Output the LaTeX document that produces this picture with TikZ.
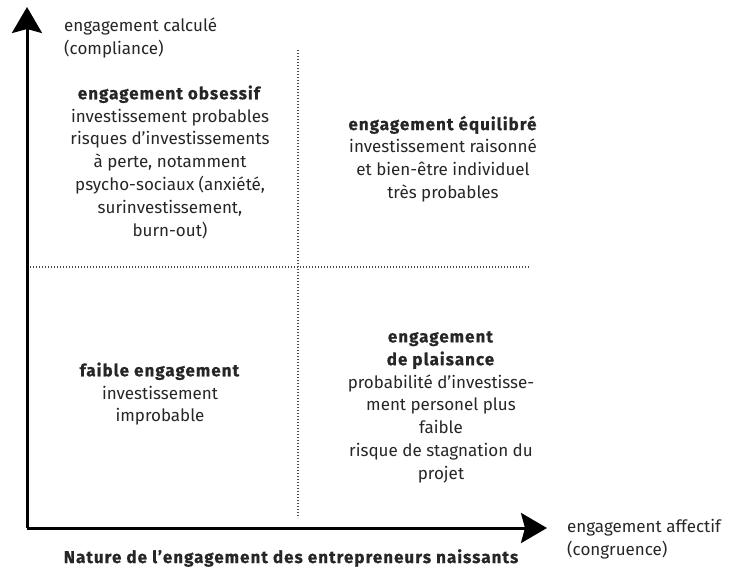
\documentclass[tikz,border=0pt]{standalone}
\usepackage{fontspec}
\setmainfont{Fira Sans}[BoldFeatures={LetterSpace=6, FakeBold=0.6}]
\usepackage{tikz}
\usetikzlibrary{positioning, arrows.meta}

\begin{document}
\begin{tikzpicture}[
				x=1pt, y=-1pt,
				every node/.style={font=\fontsize{17}{22.8}\selectfont, inner sep=0pt, text=black!85},
				quad/.style={align=center},
				axislabel/.style={align=left, anchor=west},
				axis/.style={-{Stealth[length=26pt, width=30pt, inset=4pt]}, line width=3pt},
				divider/.style={line width=1.2pt, black!70, dash pattern=on 1.2pt off 1.8pt}
				]
				\useasboundingbox (0,0) rectangle (734,573);
				% Axes
				\coordinate (origin) at (27,528);
				\coordinate (ytip) at (27,7);
				\coordinate (xtip) at (547,528);
				\draw [axis] (origin) -- (ytip);
				\draw [axis] (origin) -- (xtip);
				
				% Dividers
				\coordinate (vtop) at (298,50);
				\coordinate (vbot) at (298,518);
				\coordinate (hleft) at (30,267);
				\coordinate (hright) at (530,267);
				\draw [divider] (vtop) -- (vbot);
				\draw [divider] (hleft) -- (hright);
				
				% Axis labels
				\node (ylabel) [axislabel] at (64,38) {engagement calculé\\(compliance)};
				\node (xlabel) [axislabel] at (567,539) {engagement affectif\\(congruence)};
				\node (title) at (291,558) {\bfseries Nature de l’engagement des entrepreneurs naissants};
				
				% Quadrants
				\node (q1) [quad] at (170,162) {\textbf{engagement obsessif}\\investissement probables\\risques d’investissements\\à perte, notamment\\psycho-sociaux (anxiété,\\surinvestissement,\\burn-out)};
				\node (q2) [quad] at (443,159) {\textbf{engagement équilibré}\\investissement raisonné\\et bien-être individuel\\très probables};
				\node (q3) [quad] at (160,394) {\textbf{faible engagement}\\investissement\\improbable};
				\node (q4) [quad] at (441,407) {\textbf{engagement}\\\textbf{de plaisance}\\probabilité d’investisse-\\ment personel plus\\faible\\risque de stagnation du\\projet};
			\end{tikzpicture}
\end{document}
